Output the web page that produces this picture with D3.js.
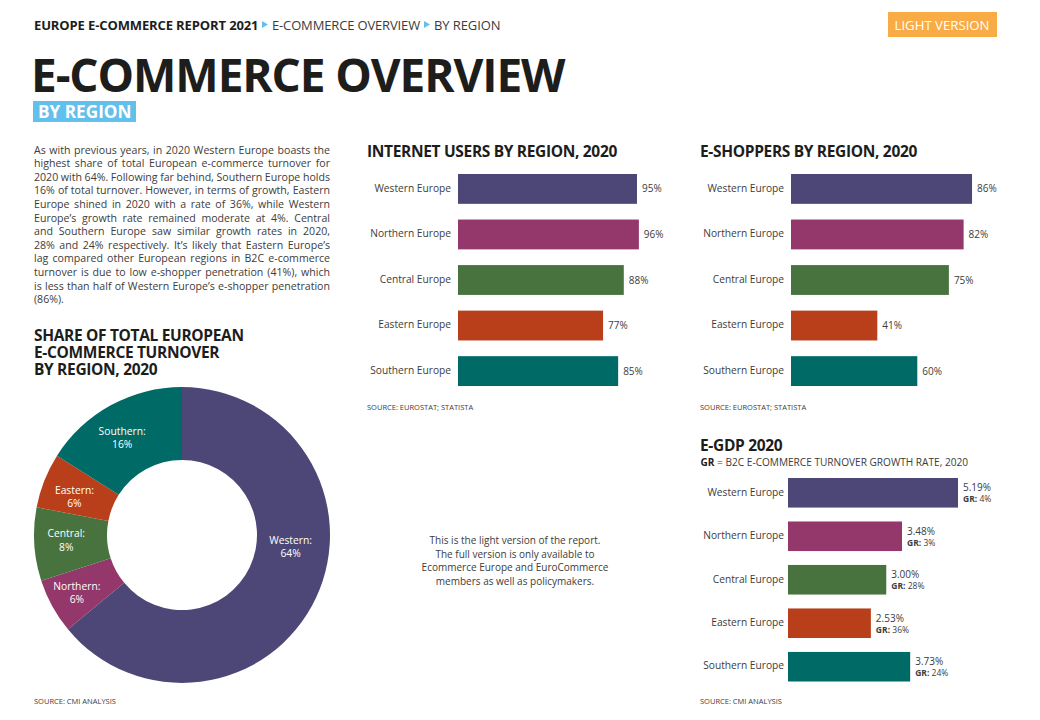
<!DOCTYPE html>
<html>
<head>
<meta charset="utf-8">
<script src="https://cdn.jsdelivr.net/npm/d3@7/dist/d3.min.js"></script>
<style>
html, body { margin: 0; padding: 0; background: #fff; }
svg { display: block; }
text { font-family: "Open Sans", sans-serif; fill: #1d1d1b; }
.axis path, .axis line { display: none; }
.axis text { font-size: 10.2px; fill: #3c3c3b; }
.head { font-size: 15.5px; font-weight: 700; letter-spacing: -0.33px; }
.source { font-size: 7.5px; fill: #3c3c3b; }
.val { font-size: 10px; fill: #3c3c3b; }
</style>
</head>
<body>
<div id="chart"></div>
<script>
var regions = ["Western Europe", "Northern Europe", "Central Europe", "Eastern Europe", "Southern Europe"];
var colors = ["#4d4777", "#94376a", "#48733e", "#b93f1a", "#006b66"];

var internetUsers = [95, 96, 88, 77, 85];
var eShoppers = [86, 82, 75, 41, 60];
var eGdp = [5.19, 3.48, 3.00, 2.53, 3.73];
var growthRates = [4, 3, 28, 36, 24];

var shareLabels = ["Western:", "Northern:", "Central:", "Eastern:", "Southern:"];
var shareValues = [64, 6, 8, 6, 16];

var introLines = [
    "As with previous years, in 2020 Western Europe boasts the",
    "highest share of total European e-commerce turnover for",
    "2020 with 64%. Following far behind, Southern Europe holds",
    "16% of total turnover. However, in terms of growth, Eastern",
    "Europe shined in 2020 with a rate of 36%, while Western",
    "Europe\u2019s growth rate remained moderate at 4%. Central",
    "and Southern Europe saw similar growth rates in 2020,",
    "28% and 24% respectively. It\u2019s likely that Eastern Europe\u2019s",
    "lag compared other European regions in B2C e-commerce",
    "turnover is due to low e-shopper penetration (41%), which",
    "is less than half of Western Europe\u2019s e-shopper penetration",
    "(86%)."
];
var shareTitle = ["SHARE OF TOTAL EUROPEAN", "E-COMMERCE TURNOVER", "BY REGION, 2020"];
var noteLines = [
    "This is the light version of the report.",
    "The full version is only available to",
    "Ecommerce Europe and EuroCommerce",
    "members as well as policymakers."
];

var svg = d3.select("#chart").append("svg")
    .attr("width", 1040)
    .attr("height", 720);

// header
var crumb = svg.append("text").attr("x", 34).attr("y", 30).style("font-size", "13px");
crumb.append("tspan").style("font-weight", 700).style("letter-spacing", "-0.12px").text("EUROPE E-COMMERCE REPORT 2021");
crumb.append("tspan").attr("x", 272).style("fill", "#3c3c3b").style("letter-spacing", "-0.15px").text("E-COMMERCE OVERVIEW");
crumb.append("tspan").attr("x", 434).style("fill", "#3c3c3b").style("letter-spacing", "-0.1px").text("BY REGION");

[262, 424].forEach(function(x) {
    svg.append("path")
        .attr("d", "M" + x + ",21 l6,3.5 l-6,3.5 z")
        .style("fill", "#62c0ec");
});

svg.append("rect").attr("x", 888).attr("y", 12).attr("width", 109).attr("height", 25).style("fill", "#f9ab45");
svg.append("text").attr("x", 942).attr("y", 30).attr("text-anchor", "middle")
    .style("font-size", "13.2px").style("fill", "#fff").text("LIGHT VERSION");

svg.append("text").attr("x", 31).attr("y", 92)
    .style("font-size", "46px").style("font-weight", 700).style("letter-spacing", "-1.1px").text("E-COMMERCE OVERVIEW");
svg.append("rect").attr("x", 33).attr("y", 101).attr("width", 103).attr("height", 21).style("fill", "#62c0ec");
svg.append("text").attr("x", 38).attr("y", 118)
    .style("font-size", "17.2px").style("font-weight", 700).style("fill", "#fff").text("BY REGION");

// intro paragraph, justified by stretching the word gaps
svg.append("g").selectAll("text")
    .data(introLines)
    .enter().append("text")
    .attr("x", 34)
    .attr("y", function(d, i) { return 153.5 + i * 13.6; })
    .style("font-size", "10.6px")
    .style("fill", "#3c3c3b")
    .text(function(d) { return d; })
    .each(function(d, i) {
        if (i == introLines.length - 1) return;
        var gaps = d.split(" ").length - 1;
        var extra = (296 - this.getComputedTextLength()) / gaps;
        d3.select(this).style("word-spacing", extra + "px");
    });

svg.append("g").selectAll("text")
    .data(shareTitle)
    .enter().append("text")
    .attr("class", "head")
    .attr("x", 34)
    .attr("y", function(d, i) { return 341 + i * 17; })
    .text(function(d) { return d; });

svg.append("g").selectAll("text")
    .data(noteLines)
    .enter().append("text")
    .attr("x", 515)
    .attr("y", function(d, i) { return 544 + i * 13.5; })
    .attr("text-anchor", "middle")
    .style("font-size", "10px")
    .style("fill", "#3c3c3b")
    .text(function(d) { return d; });

// donut
var radius = 148;
var arc = d3.arc().outerRadius(radius).innerRadius(75);
var labelArc = d3.arc().outerRadius(radius - 28).innerRadius(radius - 28);
var pie = d3.pie().sort(null).value(function(d) { return d; });
// the labels don't sit quite on the centroid in the original
var labelNudge = [[0, -40], [0, -1], [4, -3], [4, 5], [-2, 7]];

var donut = svg.append("g").attr("transform", "translate(182,535)");
var slices = donut.selectAll(".arc")
    .data(pie(shareValues))
    .enter().append("g")
    .attr("class", "arc");

slices.append("path")
    .attr("d", arc)
    .style("fill", function(d) { return colors[d.index]; });

slices.append("text")
    .attr("transform", function(d) {
        var c = labelArc.centroid(d);
        return "translate(" + (c[0] + labelNudge[d.index][0]) + "," + (c[1] + labelNudge[d.index][1]) + ")";
    })
    .attr("text-anchor", "middle")
    .style("font-size", "10.3px")
    .style("fill", "#fff")
    .each(function(d) {
        d3.select(this).append("tspan").attr("x", 0).attr("dy", "-0.2em").text(shareLabels[d.index]);
        d3.select(this).append("tspan").attr("x", 0).attr("dy", "1.3em").text(d.value + "%");
    });

// bar panels
function barPanel(values, maxValue, left, barMax, top, bottom, pad, inner) {
    var x = d3.scaleLinear().domain([0, maxValue]).range([left, left + barMax]);
    var y = d3.scaleBand().domain(regions).range([top, bottom]).paddingInner(inner);

    svg.append("g")
        .attr("class", "axis")
        .attr("transform", "translate(" + left + ",-0.5)")
        .call(d3.axisLeft(y).tickSize(0).tickPadding(pad));

    svg.append("g").selectAll("rect")
        .data(values)
        .enter().append("rect")
        .attr("x", x(0))
        .attr("y", function(d, i) { return y(regions[i]); })
        .attr("width", function(d) { return x(d) - x(0); })
        .attr("height", y.bandwidth())
        .style("fill", function(d, i) { return colors[i]; });

    return { x: x, y: y };
}

function pctLabels(panel, values) {
    svg.append("g").selectAll("text")
        .data(values)
        .enter().append("text")
        .attr("class", "val")
        .attr("x", function(d) { return panel.x(d) + 5; })
        .attr("y", function(d, i) { return panel.y(regions[i]) + panel.y.bandwidth() / 2 + 3.5; })
        .text(function(d) { return d + "%"; });
}

svg.append("text").attr("class", "head").attr("x", 367).attr("y", 157).text("INTERNET USERS BY REGION, 2020");
pctLabels(barPanel(internetUsers, 100, 458, 188.4, 174, 386, 7, 0.345), internetUsers);
svg.append("text").attr("class", "source").attr("x", 367).attr("y", 410).text("SOURCE: EUROSTAT; STATISTA");

svg.append("text").attr("class", "head").attr("x", 700).attr("y", 157).text("E-SHOPPERS BY REGION, 2020");
pctLabels(barPanel(eShoppers, 100, 791, 210.5, 174, 386, 7, 0.345), eShoppers);
svg.append("text").attr("class", "source").attr("x", 700).attr("y", 410).text("SOURCE: EUROSTAT; STATISTA");

svg.append("text").attr("class", "head").attr("x", 700).attr("y", 451).text("E-GDP 2020");
var sub = svg.append("text").attr("x", 700.5).attr("y", 466).style("font-size", "10.1px");
sub.append("tspan").style("font-weight", 700).text("GR");
sub.append("tspan").style("fill", "#3c3c3b").text(" = B2C E-COMMERCE TURNOVER GROWTH RATE, 2020");

var gdp = barPanel(eGdp, 5.19, 788, 170, 478, 681.5, 4, 0.32);

svg.append("g").selectAll("text")
    .data(eGdp)
    .enter().append("text")
    .attr("class", "val")
    .attr("x", function(d) { return gdp.x(d) + 5; })
    .attr("y", function(d, i) { return gdp.y(regions[i]) + gdp.y.bandwidth() / 2 - 1.5; })
    .text(function(d) { return d.toFixed(2) + "%"; });

var grText = svg.append("g").selectAll("text")
    .data(growthRates)
    .enter().append("text")
    .attr("x", function(d, i) { return gdp.x(eGdp[i]) + 5; })
    .attr("y", function(d, i) { return gdp.y(regions[i]) + gdp.y.bandwidth() / 2 + 9.5; })
    .style("font-size", "8.5px")
    .style("fill", "#3c3c3b");
grText.append("tspan").style("font-weight", 700).style("fill", "#3c3c3b").text("GR: ");
grText.append("tspan").text(function(d) { return d + "%"; });

svg.append("text").attr("class", "source").attr("x", 34).attr("y", 704).text("SOURCE: CMI ANALYSIS");
svg.append("text").attr("class", "source").attr("x", 700).attr("y", 704).text("SOURCE: CMI ANALYSIS");
</script>
</body>
</html>
